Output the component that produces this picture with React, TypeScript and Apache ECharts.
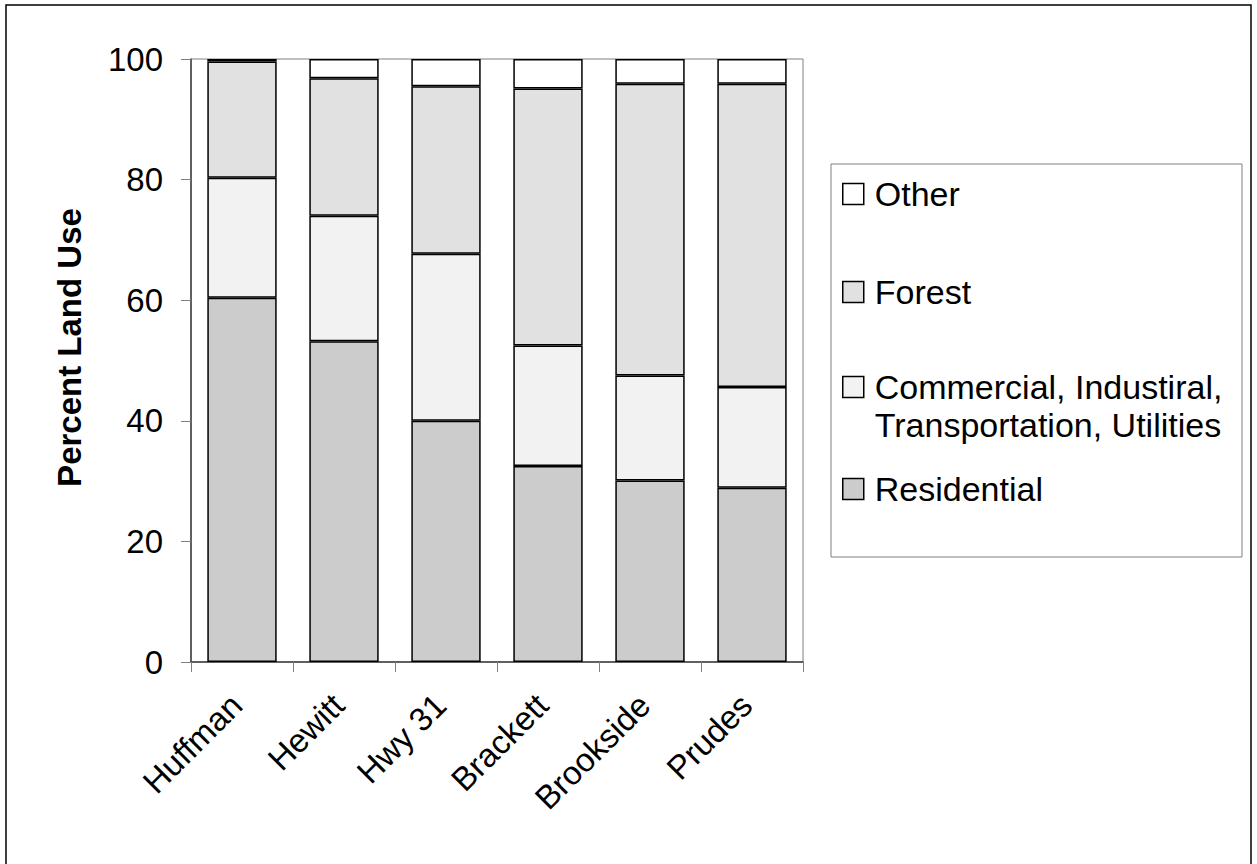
import React, { useEffect, useRef } from "react";
import * as echarts from "echarts";

const categories = ["Huffman", "Hewitt", "Hwy 31", "Brackett", "Brookside", "Prudes"];
const residential = [60.4, 53.2, 40.0, 32.5, 30.1, 28.9];
const commercial = [19.9, 20.8, 27.7, 20.0, 17.4, 16.7];
const forest = [19.3, 22.8, 27.8, 42.6, 48.4, 50.3];
const other = [0.4, 3.2, 4.5, 4.9, 4.1, 4.1];
const yTicks = [0, 20, 40, 60, 80, 100];

const COMM_NAME = "Commercial, Industiral, Transportation, Utilities";
const FONT = "'Liberation Sans', Arial, sans-serif";

export default function App() {
  const ref = useRef<HTMLDivElement>(null);
  useEffect(() => {
    if (!ref.current) return;
    const chart = echarts.init(ref.current, undefined, { renderer: "svg" });
    const border = { borderColor: "#000", borderWidth: 1.5 };
    const mkSeries = (name: string, data: number[], color: string) => ({
      name,
      type: "bar",
      stack: "total",
      data,
      barWidth: "68%",
      itemStyle: { color, ...border },
      emphasis: { disabled: true },
    });
    const legendText = {
      fontSize: 34,
      fontFamily: FONT,
      color: "#000",
      lineHeight: 38,
      padding: [0, 0, 0, 6],
    };
    const legendBase = (name: string, top: number, extra: any = {}) => ({
      data: [name],
      orient: "vertical",
      left: 842,
      top,
      padding: 0,
      itemWidth: 21,
      itemHeight: 21,
      selectedMode: false,
      icon: "rect",
      itemStyle: { borderColor: "#000", borderWidth: 1.5 },
      textStyle: legendText,
      ...extra,
    });
    chart.setOption({
      animation: false,
      backgroundColor: "#fff",
      textStyle: { fontFamily: FONT },
      grid: {
        left: 191,
        top: 59,
        width: 612,
        height: 603,
        show: true,
        borderColor: "#808080",
        borderWidth: 1,
        backgroundColor: "transparent",
      },
      xAxis: {
        type: "category",
        data: categories,
        axisLine: { lineStyle: { color: "#404040", width: 1.5 } },
        axisTick: { show: true, length: 10, alignWithLabel: false, lineStyle: { color: "#808080" } },
        axisLabel: {
          interval: 0,
          rotate: 45,
          margin: 32,
          padding: [0, 8, 0, 0],
          fontSize: 33,
          fontFamily: FONT,
          color: "#000",
        },
      },
      yAxis: {
        type: "value",
        min: 0,
        max: 100,
        interval: 20,
        name: "Percent Land Use",
        nameLocation: "middle",
        nameRotate: 90,
        nameGap: 105,
        nameTextStyle: {
          fontSize: 33,
          fontWeight: "bold",
          fontFamily: FONT,
          color: "#000",
          padding: [0, 0, 0, 26],
        },
        splitLine: { show: false },
        axisLine: { show: true, lineStyle: { color: "#404040", width: 1.5 } },
        axisTick: { show: true, length: 10, lineStyle: { color: "#808080" } },
        axisLabel: {
          margin: 28,
          fontSize: 33,
          fontFamily: FONT,
          color: "#000",
          formatter: (v: number) => (yTicks.includes(v) ? String(v) : ""),
        },
      },
      legend: [
        legendBase("Other", 175),
        legendBase("Forest", 273),
        legendBase(COMM_NAME, 330, {
          formatter: () => " \nCommercial, Industiral,\nTransportation, Utilities",
        }),
        legendBase("Residential", 470),
      ],
      graphic: [
        {
          type: "rect",
          shape: { x: 6, y: 5, width: 1245, height: 900 },
          style: { fill: "none", stroke: "#000", lineWidth: 1.5 },
          silent: true,
        },
        {
          type: "rect",
          shape: { x: 831, y: 164, width: 411, height: 393 },
          style: { fill: "none", stroke: "#808080", lineWidth: 1 },
          silent: true,
        },
      ],
      series: [
        mkSeries("Residential", residential, "#cccccc"),
        mkSeries(COMM_NAME, commercial, "#f2f2f2"),
        mkSeries("Forest", forest, "#e1e1e1"),
        mkSeries("Other", other, "#ffffff"),
      ],
    });
    return () => chart.dispose();
  }, []);
  return (
    <div
      ref={ref}
      style={{ position: "fixed", left: 0, top: 0, width: 1257, height: 864, background: "#fff" }}
    />
  );
}
